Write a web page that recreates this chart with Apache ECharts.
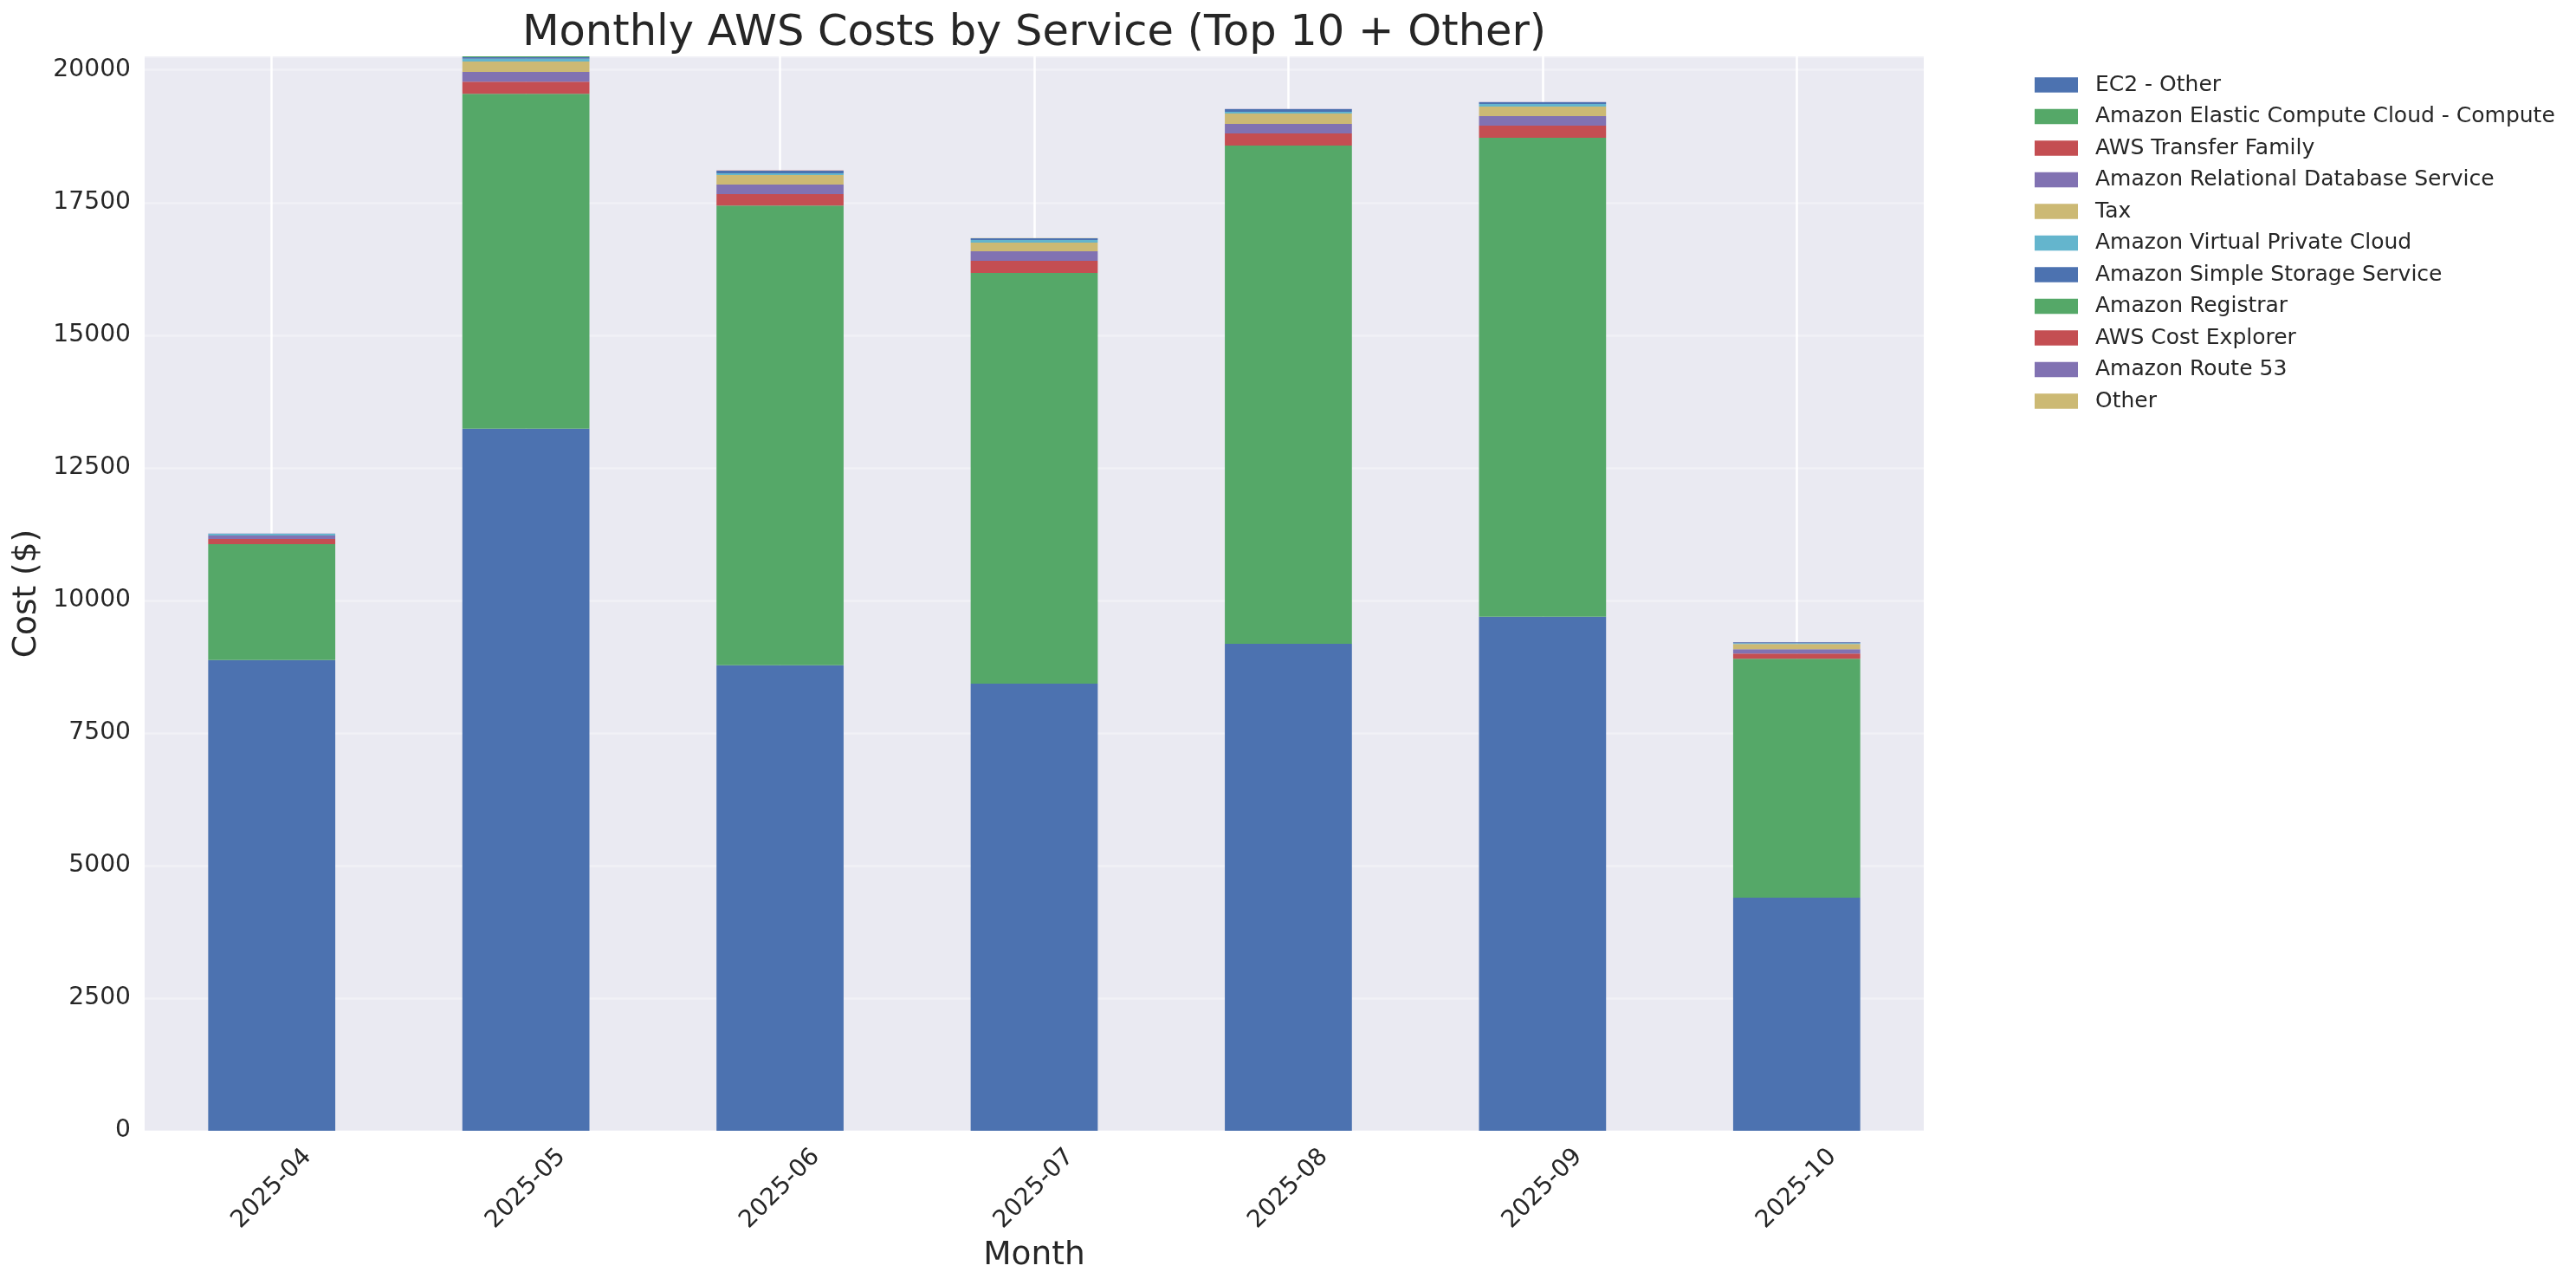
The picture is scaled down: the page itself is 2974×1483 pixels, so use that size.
<!DOCTYPE html>
<html><head><meta charset="utf-8">
<script src="https://cdn.jsdelivr.net/npm/echarts@6/dist/echarts.min.js"></script>
<style>html,body{margin:0;padding:0;background:#fff}#c{width:2974px;height:1483px}</style>
</head><body><div id="c"></div>
<script>
const months = ['2025-04', '2025-05', '2025-06', '2025-07', '2025-08', '2025-09', '2025-10'];
const serviceNames = ['EC2 - Other', 'Amazon Elastic Compute Cloud - Compute', 'AWS Transfer Family',
  'Amazon Relational Database Service', 'Tax', 'Amazon Virtual Private Cloud', 'Amazon Simple Storage Service',
  'Amazon Registrar', 'AWS Cost Explorer', 'Amazon Route 53', 'Other'];
const ec2Other       = [8873, 13237, 8775, 8431, 9183, 9690, 4395];
const ec2Compute     = [2185, 6312, 8667, 7740, 9391, 9031, 4505];
const transferFamily = [98, 229, 218, 229, 229, 229, 98];
const rds            = [65, 185, 180, 180, 180, 180, 82];
const tax            = [0, 196, 180, 163, 196, 180, 98];
const vpc            = [33, 54, 33, 49, 33, 49, 16];
const s3             = [3, 27, 49, 33, 49, 33, 16];
const registrar      = [0, 40, 0, 0, 0, 0, 0];
const costExplorer   = [0, 1, 1, 1, 1, 1, 1];
const route53        = [1, 1, 1, 1, 1, 1, 1];
const otherCosts     = [1, 2, 2, 2, 2, 2, 1];
const yTicks = [0, 2500, 5000, 7500, 10000, 12500, 15000, 17500, 20000];

const seriesValues = [ec2Other, ec2Compute, transferFamily, rds, tax, vpc, s3, registrar, costExplorer, route53, otherCosts];
const palette = ['#4C72B0', '#55A868', '#C44E52', '#8172B2', '#CCB974', '#64B5CD'];
const FONT = 'DejaVu Sans';
const TXT = '#262626';

const chart = echarts.init(document.getElementById('c'), null, {renderer: 'canvas'});
const barSeries = serviceNames.map((name, i) => ({
  name: name,
  type: 'bar',
  stack: 'total',
  barWidth: '50%',
  data: seriesValues[i],
  itemStyle: {color: palette[i % palette.length]},
  emphasis: {disabled: true},
  z: 3
}));
barSeries.push({
  type: 'line',
  name: '__vgrid',
  data: [],
  silent: true,
  z: 1,
  markLine: {
    z: 1,
    silent: true,
    symbol: 'none',
    label: {show: false},
    lineStyle: {color: '#ffffff', width: 2.5, type: 'solid', opacity: 1},
    emphasis: {disabled: true},
    data: months.map(m => ({xAxis: m}))
  }
});

chart.setOption({
  animation: false,
  backgroundColor: '#ffffff',
  textStyle: {fontFamily: FONT},
  graphic: [{
    type: 'text', x: 1194, y: 39, z: 10,
    style: {text: 'Monthly AWS Costs by Service (Top 10 + Other)', font: '49.5px "DejaVu Sans"', fill: TXT,
      textAlign: 'center', textVerticalAlign: 'middle'}
  }],
  grid: {left: 167, right: 753, top: 65, bottom: 178, show: true, backgroundColor: '#EAEAF2', borderWidth: 0, containLabel: false},
  legend: {
    orient: 'vertical', left: 2349, top: 83, padding: 0,
    itemWidth: 50, itemHeight: 17.5, itemGap: 6.5, icon: 'rect',
    data: serviceNames,
    textStyle: {fontFamily: FONT, fontSize: 25, lineHeight: 30, color: TXT, padding: [0, 0, 0, 15]},
    selectedMode: false
  },
  xAxis: {
    type: 'category', data: months,
    axisLine: {show: false}, axisTick: {show: false}, splitLine: {show: false},
    axisLabel: {rotate: 45, interval: 0, fontFamily: FONT, fontSize: 28, color: TXT, margin: 67, align: 'center', verticalAlign: 'middle'},
    name: 'Month', nameLocation: 'middle', nameGap: 123,
    nameTextStyle: {fontFamily: FONT, fontSize: 37.5, color: TXT}
  },
  yAxis: {
    type: 'value', min: 0, max: 20257, interval: 2500,
    axisLine: {show: false}, axisTick: {show: false},
    axisLabel: {fontFamily: FONT, fontSize: 28.2, color: TXT, margin: 16, showMaxLabel: false,
      formatter: v => (yTicks.indexOf(v) >= 0 ? String(v) : '')},
    splitLine: {show: true, lineStyle: {color: 'rgba(255,255,255,0.35)', width: 2.5}},
    name: 'Cost ($)', nameLocation: 'middle', nameGap: 116,
    nameTextStyle: {fontFamily: FONT, fontSize: 37.5, color: TXT}
  },
  series: barSeries
});
</script>
</body></html>
